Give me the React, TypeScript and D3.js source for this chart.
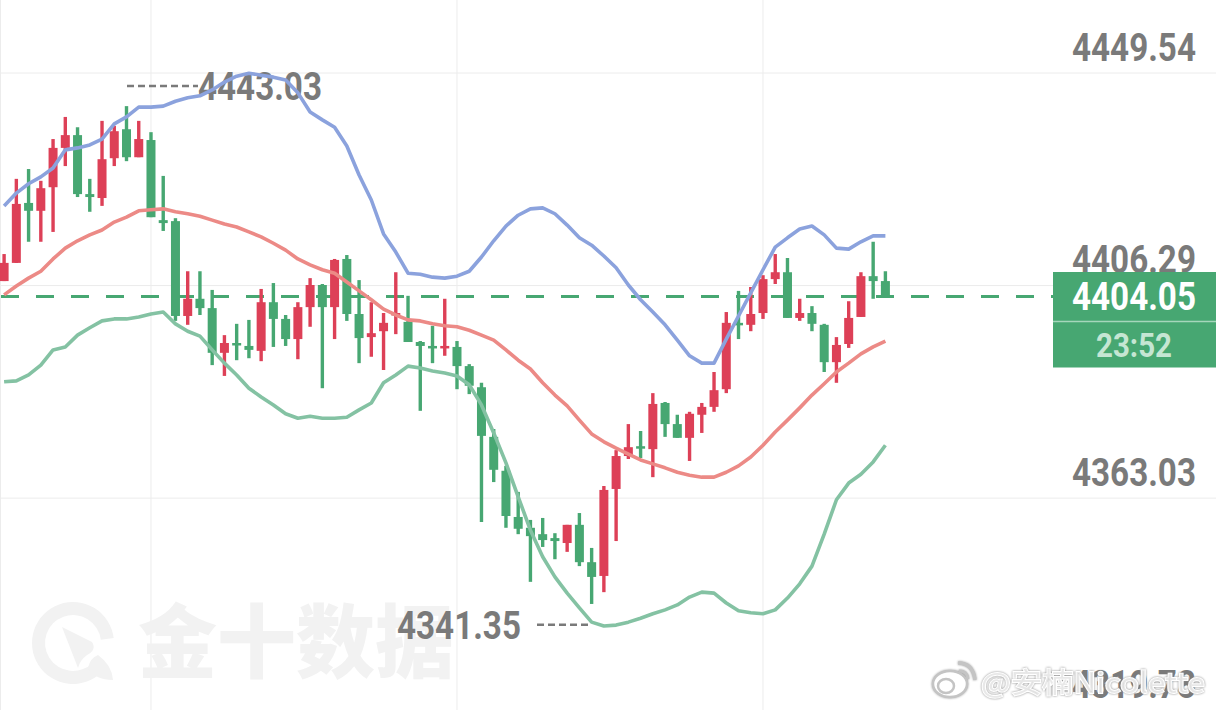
import React, { useEffect, useRef } from "react";
import * as d3 from "d3";

const opens = [4407.2,4410.9,4423.1,4421.5,4426.3,4434.3,4436.9,4424.9,4424.1,4432.2,4438.1,4432.4,4435.9,4419.6,4419.4,4400.1,4403.6,4401.7,4392.6,4394.6,4394.0,4393.0,4402.9,4399.5,4395.4,4401.9,4406.4,4401.9,4411.7,4400.5,4395.8,4397.0,4400.5,4398.9,4394.8,4394.0,4393.6,4393.8,4389.9,4385.6,4375.5,4368.6,4359.2,4357.0,4355.7,4354.9,4353.9,4357.6,4350.0,4347.2,4364.9,4371.6,4373.6,4373.0,4382.4,4378.1,4375.3,4380.0,4381.6,4385.2,4398.7,4398.3,4400.7,4407.6,4409.0,4399.7,4400.7,4398.3,4390.7,4394.4,4399.9,4408.2,4407.2];
const closes = [4410.9,4422.9,4421.5,4426.1,4434.3,4436.9,4424.9,4424.3,4432.0,4437.7,4432.4,4436.1,4420.2,4419.0,4400.1,4403.6,4401.7,4392.6,4394.6,4394.2,4393.2,4402.9,4399.5,4395.4,4401.9,4406.4,4401.9,4411.5,4400.5,4395.6,4396.6,4398.7,4400.7,4394.8,4394.0,4393.6,4394.0,4389.9,4385.9,4375.7,4368.8,4359.4,4356.8,4355.3,4354.5,4354.3,4357.6,4350.0,4347.0,4364.7,4371.6,4373.4,4373.2,4382.2,4378.1,4375.3,4380.2,4381.6,4385.0,4398.7,4398.3,4400.5,4407.6,4409.0,4399.7,4400.7,4398.5,4390.7,4394.2,4399.7,4408.2,4407.2,4404.05];
const highs = [4412.7,4428.0,4430.0,4427.6,4436.1,4440.6,4438.5,4428.0,4439.8,4438.8,4442.8,4439.8,4437.5,4428.6,4420.0,4409.2,4409.2,4405.4,4396.2,4398.5,4399.3,4405.6,4406.8,4400.3,4402.9,4407.8,4406.6,4411.7,4412.5,4407.4,4402.9,4400.7,4409.0,4404.2,4395.0,4398.1,4403.6,4395.0,4390.3,4386.5,4377.1,4369.6,4364.3,4358.6,4359.0,4355.9,4357.6,4360.0,4352.9,4365.5,4372.8,4378.1,4376.7,4384.4,4382.6,4380.0,4380.6,4382.4,4388.7,4400.9,4405.2,4406.0,4408.4,4412.7,4411.9,4403.6,4402.1,4398.5,4395.8,4403.1,4409.0,4415.2,4409.2];
const lows = [4407.2,4410.9,4415.2,4415.2,4417.2,4430.6,4424.3,4421.3,4422.5,4430.6,4431.6,4432.4,4420.2,4417.4,4399.1,4398.3,4400.3,4390.1,4387.9,4391.1,4391.5,4390.9,4393.8,4394.0,4391.3,4397.9,4385.4,4395.4,4399.1,4390.5,4391.8,4389.1,4396.4,4394.8,4380.8,4390.5,4392.0,4385.2,4384.2,4358.2,4366.3,4357.0,4355.7,4346.0,4353.1,4350.6,4352.1,4349.2,4341.5,4343.9,4354.3,4371.0,4371.2,4367.3,4375.5,4375.3,4370.6,4376.3,4380.6,4384.4,4395.4,4397.0,4399.5,4406.6,4399.7,4399.1,4397.0,4388.7,4386.5,4393.6,4399.9,4403.6,4403.8];

const upperBand = [4422.5,4425.1,4427.0,4428.4,4430.2,4433.9,4434.3,4434.9,4436.1,4439.2,4440.6,4442.6,4442.6,4442.8,4443.8,4444.5,4444.9,4446.1,4447.7,4448.9,4449.5,4449.1,4448.7,4448.1,4445.5,4441.6,4440.0,4438.5,4434.7,4428.8,4423.7,4416.8,4413.1,4408.8,4408.6,4408.0,4407.8,4408.2,4409.2,4412.1,4415.4,4418.4,4420.6,4421.9,4422.1,4420.9,4418.6,4416.0,4414.5,4412.3,4409.9,4406.4,4403.4,4400.9,4398.3,4395.2,4392.0,4390.5,4390.5,4395.4,4400.1,4404.8,4409.5,4414.1,4416.0,4417.8,4418.4,4416.6,4413.9,4413.7,4415.2,4416.4,4416.4];
const middleBand = [4404.4,4406.2,4407.8,4409.2,4411.7,4413.9,4415.4,4416.6,4417.6,4419.2,4420.2,4421.5,4421.7,4421.9,4421.3,4420.9,4420.4,4419.6,4418.8,4418.2,4417.2,4416.2,4414.9,4413.5,4411.7,4410.5,4409.5,4408.8,4407.0,4405.2,4403.4,4401.5,4400.3,4399.3,4399.1,4398.5,4398.1,4397.9,4397.2,4396.2,4395.2,4393.2,4391.1,4389.3,4386.5,4384.0,4381.8,4378.9,4376.1,4374.5,4373.2,4372.0,4370.8,4370.0,4369.2,4368.3,4367.7,4367.3,4367.3,4368.3,4369.6,4371.4,4373.8,4376.5,4378.9,4381.4,4384.0,4386.3,4388.7,4390.5,4392.4,4393.8,4395.0];
const lowerBand = [4386.7,4386.9,4388.1,4390.1,4393.2,4393.8,4396.2,4397.7,4399.1,4399.5,4399.5,4399.9,4400.5,4400.9,4398.5,4397.0,4396.0,4393.2,4390.5,4388.1,4385.4,4383.6,4382.0,4380.2,4379.3,4379.7,4379.3,4379.3,4379.5,4381.0,4382.4,4386.5,4388.1,4389.9,4389.5,4388.9,4388.5,4387.9,4386.1,4382.0,4376.3,4370.2,4363.3,4356.5,4351.1,4347.0,4343.7,4340.7,4337.8,4337.0,4337.2,4337.8,4338.6,4339.5,4340.3,4341.3,4342.9,4343.9,4343.7,4341.7,4340.1,4339.7,4339.5,4340.3,4342.7,4345.6,4349.2,4355.7,4362.7,4366.1,4367.9,4370.4,4373.8];

const priceTicks = [4449.54, 4406.29, 4363.03, 4319.78];
const timeTicks = [12, 37, 62];
const lastPrice = 4404.05;
const countdown = "23:52";
const highMark = 4443.03;
const lowMark = 4341.35;

const RED = "#dd4057";
const GREEN = "#47a772";
const GREY = "#7a7a7a";
const FONT = "Roboto, sans-serif";

export default function App() {
  const svgRef = useRef<SVGSVGElement>(null);

  useEffect(() => {
    if (!svgRef.current) return;
    const svg = d3.select(svgRef.current);
    svg.selectAll("*").remove();

    const x = d3.scaleLinear().domain([0, 72]).range([4.1, 885.4]);
    const y = d3.scaleLinear().domain([4449.54, 4319.78]).range([73, 710.7]);

    // grid
    const grid = svg.append("g").attr("stroke", "#ececec").attr("stroke-width", 1);
    grid.selectAll("line.h").data(priceTicks).join("line").attr("class", "h")
      .attr("x1", 0).attr("x2", 1216).attr("y1", (d) => y(d)).attr("y2", (d) => y(d));
    grid.selectAll("line.v").data(timeTicks).join("line").attr("class", "v")
      .attr("x1", (d) => x(d)).attr("x2", (d) => x(d)).attr("y1", 0).attr("y2", 710);
    grid.append("line").attr("x1", 0.5).attr("x2", 0.5).attr("y1", 0).attr("y2", 710);

    // jin10 watermark
    const wm = svg.append("g").attr("fill", "#f2f2f2");
    const ring = d3.arc()({ innerRadius: 28, outerRadius: 41, startAngle: 2.35, endAngle: 2 * Math.PI + 1.45 } as any);
    wm.append("path").attr("transform", "translate(73,643)").attr("d", ring as string);
    wm.append("path").attr("d", "M62,627 L92,642 Q97,650 87,655 Q80,660 78,668 Z");
    wm.append("path").attr("d", "M98,655 Q112,665 113,680 Q95,680 88,668 Q90,658 98,655 Z");
    wm.append("text").attr("x", 138).attr("y", 671).attr("font-size", 80).attr("font-weight", 900)
      .attr("font-family", "'Noto Sans CJK SC'").attr("textLength", 316).attr("lengthAdjust", "spacingAndGlyphs")
      .text("金十数据");

    // last price line
    svg.append("line").attr("x1", 1).attr("x2", 1053).attr("y1", y(lastPrice)).attr("y2", y(lastPrice))
      .attr("stroke", GREEN).attr("stroke-width", 3).attr("stroke-dasharray", "18 17");

    // candles
    const idx = d3.range(opens.length);
    const color = (i: number) => (closes[i] > opens[i] ? RED : GREEN);
    const candles = svg.append("g");
    candles.selectAll("line").data(idx).join("line")
      .attr("x1", (i) => x(i)).attr("x2", (i) => x(i))
      .attr("y1", (i) => y(highs[i])).attr("y2", (i) => y(lows[i]))
      .attr("stroke", color).attr("stroke-width", 3.4);
    candles.selectAll("rect").data(idx).join("rect")
      .attr("x", (i) => x(i) - 4.5).attr("width", 9)
      .attr("y", (i) => y(Math.max(opens[i], closes[i])))
      .attr("height", (i) => Math.max(2.5, Math.abs(y(opens[i]) - y(closes[i]))))
      .attr("fill", color);

    // tick labels
    const label = (text: string, right: number, base: number, fill: string) =>
      svg.append("text").attr("x", right - 124).attr("y", base).attr("font-family", FONT)
        .attr("font-size", 39).attr("font-weight", 700).attr("fill", fill)
        .attr("textLength", 124).attr("lengthAdjust", "spacingAndGlyphs").text(text);
    priceTicks.forEach((p) => label(p.toFixed(2), 1196, y(p) - 12.5, GREY));

    // high and low marks sit offset from the extreme they name
    const highY = y(highMark) - 19;
    const lowY = y(lowMark) + 20;
    const marks = svg.append("g").attr("stroke", GREY).attr("stroke-width", 2.5).attr("stroke-dasharray", "7 4");
    marks.append("line").attr("x1", 127).attr("x2", 198).attr("y1", highY).attr("y2", highY);
    marks.append("line").attr("x1", 537).attr("x2", 590).attr("y1", lowY).attr("y2", lowY);
    label(highMark.toFixed(2), 322, highY + 14.5, GREY);
    label(lowMark.toFixed(2), 521, lowY + 14, GREY);

    // bollinger bands
    const line = d3.line<number>().x((_, i) => x(i)).y((d) => y(d)).curve(d3.curveLinear);
    ([[upperBand, "#8ba2dd"], [middleBand, "#ec8a86"], [lowerBand, "#84c2a3"]] as [number[], string][]).forEach(([band, c]) => {
      svg.append("path").attr("d", line(band)).attr("fill", "none").attr("stroke", c)
        .attr("stroke-width", 3.6).attr("stroke-linejoin", "round");
    });

    // last price box
    svg.append("rect").attr("x", 1053).attr("y", 272).attr("width", 163).attr("height", 95.5).attr("fill", GREEN);
    svg.append("line").attr("x1", 1053).attr("x2", 1216).attr("y1", 321.5).attr("y2", 321.5)
      .attr("stroke", "#a5d6bb").attr("stroke-width", 1.5);
    label(lastPrice.toFixed(2), 1196, 310, "#ffffff");
    svg.append("text").attr("x", 1096).attr("y", 357).attr("font-family", FONT).attr("font-size", 33)
      .attr("font-weight", 700).attr("fill", "#c5e6d3").attr("textLength", 76)
      .attr("lengthAdjust", "spacingAndGlyphs").text(countdown);

    // weibo watermark
    const wb = svg.append("g").attr("fill", "#ffffff").attr("stroke", "#c4c4c4").attr("stroke-width", 2.5)
      .style("filter", "drop-shadow(0 0 1px #999)");
    wb.append("ellipse").attr("cx", 950).attr("cy", 684).attr("rx", 17).attr("ry", 13);
    wb.append("ellipse").attr("cx", 946).attr("cy", 686).attr("rx", 8).attr("ry", 7);
    wb.append("path").attr("fill", "none").attr("stroke-width", 3.5).attr("d", "M958,663 Q973,663 975,680");
    wb.append("path").attr("fill", "none").attr("stroke-width", 3).attr("d", "M959,671 Q967,671 968,679");
    svg.append("text").attr("x", 981).attr("y", 693).attr("font-family", "'Noto Sans CJK SC', sans-serif")
      .attr("font-size", 28).attr("fill", "#e4e4e4").attr("fill-opacity", 0.85)
      .attr("stroke", "#ffffff").attr("stroke-width", 2).attr("paint-order", "stroke")
      .style("filter", "drop-shadow(0 0 1.2px #8a8a8a)")
      .attr("textLength", 224).attr("lengthAdjust", "spacingAndGlyphs").text("@安楠Nicolette");
  }, []);

  return (
    <svg
      ref={svgRef}
      width={1216}
      height={710}
      viewBox="0 0 1216 710"
      style={{ position: "absolute", left: 0, top: 0, display: "block", background: "#fff" }}
    />
  );
}
